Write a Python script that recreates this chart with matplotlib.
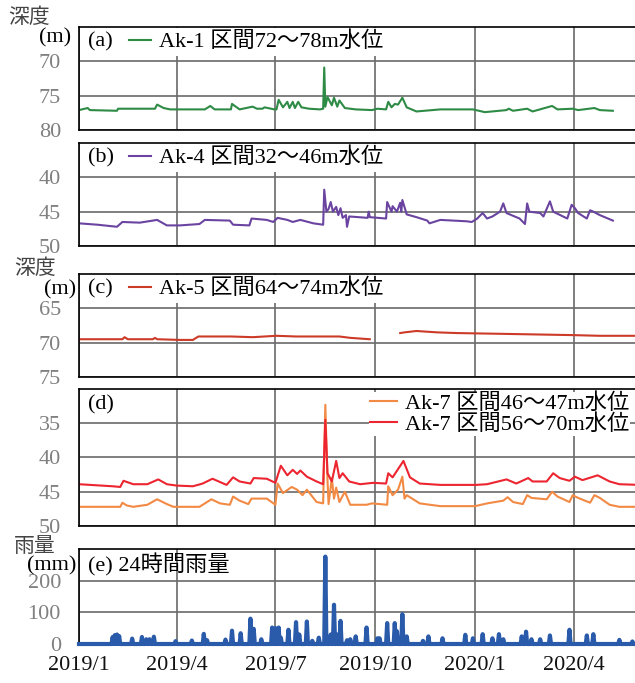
import numpy as np
import pandas as pd
import matplotlib
matplotlib.use("Agg")
import matplotlib.pyplot as plt
import matplotlib.dates as mdates
from matplotlib.ticker import FuncFormatter

plt.rcParams["font.family"] = ["Liberation Serif", "Noto Sans CJK JP"]
plt.rcParams["font.size"] = 16

START = pd.Timestamp("2019-01-01")
END = pd.Timestamp("2020-06-01")

# x values are days since 2019-01-01
# (a) Ak-1, depth of water level (m)
a_day = [0, 8, 10, 35, 36, 70, 72, 78, 84, 116, 121, 125, 140, 141, 148, 160, 164,
         169, 171, 180, 182, 184, 188, 192, 194, 197, 199, 202, 205, 212, 222, 225,
         226, 227, 229, 233, 235, 238, 240, 245, 255, 270, 275, 283, 285, 288, 291,
         294, 298, 302, 311, 333, 363, 374, 394, 396, 400, 413, 418, 436, 441, 455,
         460, 475, 480, 492]
a_val = [77.1, 76.8, 77.1, 77.2, 76.9, 76.9, 76.3, 76.8, 77.0, 77.0, 76.5, 77.0, 77.0,
         76.2, 77.0, 76.6, 76.9, 76.9, 76.7, 77.0, 77.0, 75.6, 76.7, 75.9, 76.8, 75.9,
         76.8, 75.9, 76.7, 76.9, 77.0, 76.9, 70.9, 76.6, 75.2, 76.4, 75.3, 76.6, 75.7,
         76.8, 77.0, 77.1, 76.9, 77.0, 75.9, 76.7, 76.2, 76.3, 75.3, 76.7, 77.3, 77.0,
         77.0, 77.4, 77.1, 76.9, 77.2, 76.9, 77.3, 76.5, 77.0, 76.9, 77.1, 76.8, 77.1,
         77.2]

# (b) Ak-4
b_day = [0, 17, 35, 40, 56, 72, 81, 93, 111, 116, 139, 142, 157, 159, 173, 179, 183,
         192, 197, 204, 216, 225, 226, 228, 230, 232, 234, 237, 239, 241, 243, 246,
         247, 249, 266, 267, 268, 283, 284, 288, 289, 293, 296, 297, 298, 302, 311,
         321, 323, 333, 357, 362, 367, 372, 376, 381, 388, 391, 394, 406, 411, 413,
         415, 425, 428, 434, 437, 450, 454, 457, 460, 468, 471, 474, 480, 492]
b_val = [46.7, 46.9, 47.2, 46.5, 46.6, 46.2, 47.0, 47.0, 46.8, 46.2, 46.3, 46.9, 47.0,
         46.0, 46.2, 46.5, 45.9, 46.2, 46.5, 46.2, 46.7, 46.9, 41.8, 45.0, 44.6, 43.6,
         45.0, 44.3, 45.5, 44.5, 45.9, 45.5, 47.2, 45.7, 45.9, 45.0, 45.8, 46.0, 43.6,
         45.0, 44.2, 45.0, 43.7, 45.0, 43.3, 45.4, 45.8, 46.3, 46.7, 46.2, 46.4, 46.5,
         46.0, 45.2, 46.0, 45.7, 45.0, 43.8, 45.2, 46.0, 46.8, 43.8, 45.0, 45.2, 45.7,
         43.5, 45.0, 46.0, 44.0, 44.5, 45.2, 46.0, 44.8, 45.0, 45.5, 46.3]

# (c) Ak-5 (gap Oct 2019 = no record)
c_day = [0, 40, 42, 45, 68, 70, 72, 93, 105, 110, 140, 160, 182, 200, 222, 240, 250,
         268, 282, 296, 300, 311, 330, 348, 385, 420, 455, 480, 517]
c_val = [69.5, 69.5, 69.2, 69.5, 69.5, 69.3, 69.5, 69.6, 69.6, 69.1, 69.1, 69.2, 69.0,
         69.1, 69.1, 69.1, 69.3, 69.5, np.nan, 68.6, 68.5, 68.3, 68.5, 68.6, 68.7,
         68.8, 68.9, 69.0, 69.0]

# (d) Ak-7, 46-47 m section
d1_day = [0, 38, 40, 44, 50, 63, 72, 81, 87, 111, 122, 130, 139, 142, 148, 156, 159,
          173, 181, 183, 188, 196, 201, 206, 210, 219, 225, 227, 229, 230, 233, 235,
          237, 240, 245, 250, 265, 270, 284, 285, 289, 294, 298, 300, 302, 314, 333,
          365, 376, 391, 395, 400, 409, 413, 417, 431, 436, 441, 452, 455, 460, 471,
          475, 480, 489, 498, 517]
d1_val = [47.2, 47.2, 46.6, 47.0, 47.2, 46.9, 46.1, 46.8, 47.2, 47.2, 46.1, 46.7, 46.9,
          45.7, 46.3, 46.8, 46.0, 46.0, 46.9, 43.8, 45.2, 44.3, 44.7, 45.5, 44.7, 46.5,
          46.7, 32.3, 43.3, 46.8, 43.0, 46.0, 44.4, 46.5, 45.0, 46.9, 46.9, 46.7, 46.9,
          44.2, 45.5, 44.7, 42.8, 46.0, 45.5, 46.7, 47.1, 47.1, 46.7, 46.3, 45.8, 46.5,
          46.8, 45.5, 45.9, 46.1, 45.0, 45.7, 46.5, 45.5, 45.9, 46.6, 45.5, 45.9, 46.9,
          47.2, 47.2]

# (d) Ak-7, 56-70 m section
d2_day = [0, 31, 38, 41, 50, 63, 73, 81, 90, 105, 114, 123, 136, 142, 148, 158, 161,
          173, 181, 186, 192, 197, 201, 204, 210, 219, 225, 227, 229, 233, 237, 240,
          243, 249, 259, 271, 283, 285, 289, 299, 305, 314, 333, 366, 376, 394, 403,
          414, 418, 431, 437, 443, 452, 457, 464, 474, 478, 489, 498, 517]
d2_val = [43.9, 44.2, 44.3, 43.4, 43.9, 43.9, 43.2, 43.9, 44.1, 44.2, 43.8, 43.1, 44.0,
          42.9, 43.5, 43.8, 43.0, 43.1, 43.7, 41.2, 42.6, 41.8, 42.4, 41.9, 42.8, 43.5,
          43.9, 34.5, 42.3, 43.5, 40.5, 43.0, 42.3, 43.5, 43.9, 43.7, 43.8, 42.3, 42.9,
          40.5, 42.9, 43.8, 44.0, 44.0, 43.9, 43.2, 43.8, 43.0, 43.5, 43.5, 42.3, 43.0,
          43.4, 42.8, 43.3, 42.8, 42.6, 43.5, 43.9, 44.0]

# (e) 24h rainfall events (mm), other days ~0
rain_day = [31, 33, 35, 37, 49, 58, 62, 65, 69, 89, 104, 115, 118, 135, 141, 149, 158,
            161, 168, 178, 181, 184, 186, 193, 200, 203, 210, 215, 221, 227, 232, 235,
            238, 241, 247, 250, 255, 265, 275, 277, 284, 291, 293, 298, 302, 317, 322,
            335, 356, 363, 372, 381, 387, 391, 408, 412, 417, 425, 434, 452, 468, 474,
            498, 510]
rain_mm = [22, 28, 30, 25, 17, 22, 15, 15, 23, 9, 11, 32, 12, 14, 42, 34, 80, 48, 15,
           52, 50, 52, 20, 45, 69, 30, 71, 10, 20, 276, 30, 124, 30, 73, 12, 15, 24, 52,
           18, 18, 66, 66, 40, 94, 24, 10, 24, 18, 29, 18, 31, 18, 31, 15, 24, 39, 15,
           15, 27, 45, 27, 31, 13, 8]

TICK_GRAY = "#808080"
GRID = "#6a6a6a"


def to_dates(days):
    return START + pd.to_timedelta(np.asarray(days), unit="D")


def style(ax, ylim, yticks, show_x=False):
    ax.set_xlim(START, END)
    ax.set_ylim(*ylim)
    ax.set_yticks(yticks)
    ax.xaxis.set_major_locator(mdates.MonthLocator(bymonth=[1, 4, 7, 10]))
    ax.xaxis.set_major_formatter(FuncFormatter(
        lambda v, pos: f"{mdates.num2date(v).year}/{mdates.num2date(v).month}"))
    ax.grid(True, color=GRID, lw=1.2)
    ax.set_axisbelow(True)
    ax.tick_params(axis="y", length=0, pad=13, labelcolor=TICK_GRAY, labelsize=16)
    ax.tick_params(axis="x", length=0, pad=9, labelcolor="#111111", labelsize=16,
                   labelbottom=show_x)
    for sp in ax.spines.values():
        sp.set_color("black")
        sp.set_linewidth(1.2)


def series_legend(ax, y):
    ax.legend(loc="center left", bbox_to_anchor=(0.083, y), frameon=True, framealpha=1,
              facecolor="white", edgecolor="none", fancybox=False, borderpad=0.15,
              borderaxespad=0, handlelength=1.0, handletextpad=0.35, fontsize=16)


fig = plt.figure(figsize=(6.35, 6.83), dpi=100)
W, H = 635, 683
L = 79 / W
AW = (640 - 79) / W


def add_panel(top, bottom):
    return fig.add_axes([L, 1 - bottom / H, AW, (bottom - top) / H])


ax_a = add_panel(27, 130)
ax_b = add_panel(143, 246)
ax_c = add_panel(274, 377)
ax_d = add_panel(389, 526)
ax_e = add_panel(549, 644)

# (a)
ax_a.plot(to_dates(a_day), a_val, color="#2e8b45", lw=1.5, label="Ak-1 区間72～78m水位")
style(ax_a, (80, 65), [70, 75, 80])
ax_a.text(0.016, 0.854, "(a)", transform=ax_a.transAxes, va="center", ha="left")
series_legend(ax_a, 0.854)

# (b)
ax_b.plot(to_dates(b_day), b_val, color="#6a44a0", lw=1.5, label="Ak-4 区間32～46m水位")
style(ax_b, (50, 35), [40, 45, 50])
ax_b.text(0.016, 0.854, "(b)", transform=ax_b.transAxes, va="center", ha="left")
series_legend(ax_b, 0.854)

# (c)
ax_c.plot(to_dates(c_day), c_val, color="#cc3a28", lw=1.5, label="Ak-5 区間64～74m水位")
style(ax_c, (75, 60), [65, 70, 75])
ax_c.text(0.016, 0.854, "(c)", transform=ax_c.transAxes, va="center", ha="left")
series_legend(ax_c, 0.854)

# (d)
ax_d.plot(to_dates(d1_day), d1_val, color="#f28a44", lw=1.5, label="Ak-7 区間46～47m水位")
ax_d.plot(to_dates(d2_day), d2_val, color="#ec2530", lw=1.5, label="Ak-7 区間56～70m水位")
style(ax_d, (50, 30), [35, 40, 45, 50])
ax_d.text(0.016, 0.883, "(d)", transform=ax_d.transAxes, va="center", ha="left")
ax_d.legend(loc="upper right", bbox_to_anchor=(0.982, 0.975), frameon=True, framealpha=1,
            facecolor="white", edgecolor="none", fancybox=False, borderpad=0.05,
            borderaxespad=0, handlelength=1.2, handletextpad=0.35, labelspacing=0.0,
            fontsize=16)

# (e) rainfall
days = pd.date_range(START, END, freq="D")
rain = pd.Series(0.0, index=days)
rain.loc[to_dates(rain_day)] = rain_mm
ax_e.plot(rain.index, rain.values, color="#2a5aaa", lw=3, clip_on=False, zorder=3)
style(ax_e, (0, 300), [0, 100, 200], show_x=True)
ax_e.text(0.016, 0.83, "(e) 24時間雨量", transform=ax_e.transAxes, va="center", ha="left")

# unit labels
fig.text(29 / W, 1 - 18 / H, "深度", color="#444444", ha="center", va="center", fontsize=15)
fig.text(55 / W, 1 - 38 / H, "(m)", ha="center", va="center", fontsize=16)
fig.text(35 / W, 1 - 269 / H, "深度", color="#444444", ha="center", va="center", fontsize=15)
fig.text(60 / W, 1 - 290 / H, "(m)", ha="center", va="center", fontsize=16)
fig.text(35 / W, 1 - 548 / H, "雨量", color="#444444", ha="center", va="center", fontsize=15)
fig.text(52 / W, 1 - 566 / H, "(mm)", ha="center", va="center", fontsize=16)

fig.savefig("out.png", dpi=100)
